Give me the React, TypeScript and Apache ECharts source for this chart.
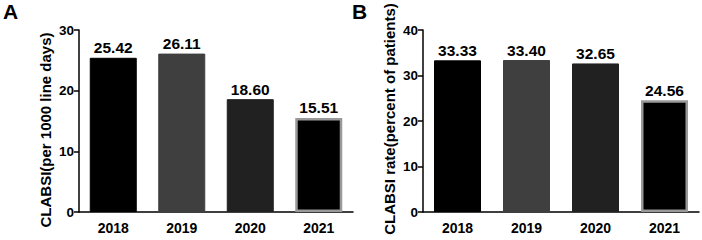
import React, { useEffect, useRef } from "react";
import * as echarts from "echarts";

const years = ["2018", "2019", "2020", "2021"];
const clabsiPer1000 = [25.42, 26.11, 18.6, 15.51];
const clabsiRate = [33.33, 33.4, 32.65, 24.56];
const barColors = ["#000000", "#3f3f3f", "#212121", "#000000"];
const barBorders = ["#000000", "#3f3f3f", "#212121", "#999999"];
const yTicksA = { min: 0, max: 30, interval: 10 };
const yTicksB = { min: 0, max: 40, interval: 10 };

const FONT = "'Liberation Sans', Arial, sans-serif";

function makeBar(values: number[], xi: number, yi: number) {
  return {
    type: "bar",
    xAxisIndex: xi,
    yAxisIndex: yi,
    barWidth: 47,
    data: values.map((v, i) => ({
      value: v,
      itemStyle: {
        color: barColors[i],
        borderColor: barBorders[i],
        borderWidth: i === 3 ? 2.5 : 1,
      },
    })),
    label: {
      show: true,
      position: "top",
      distance: 2,
      formatter: (p: any) => p.value.toFixed(2),
      fontFamily: FONT,
      fontWeight: "bold",
      fontSize: 15.5,
      color: "#000",
    },
  };
}

function xAxisCfg(gridIndex: number) {
  return {
    type: "category",
    gridIndex,
    data: years,
    axisLine: { lineStyle: { color: "#000", width: 1.5 } },
    axisTick: { alignWithLabel: true, length: 4, lineStyle: { color: "#000", width: 1.5 } },
    axisLabel: {
      fontFamily: FONT,
      fontWeight: "bold",
      fontSize: 14,
      color: "#000",
      margin: 9,
    },
  };
}

function yAxisCfg(gridIndex: number, t: { min: number; max: number; interval: number }) {
  return {
    type: "value",
    gridIndex,
    min: t.min,
    max: t.max,
    interval: t.interval,
    splitLine: { show: false },
    axisLine: { show: true, onZero: false, lineStyle: { color: "#000", width: 1.5 } },
    axisTick: { show: true, length: 5, lineStyle: { color: "#000", width: 1.5 } },
    axisLabel: {
      fontFamily: FONT,
      fontWeight: "bold",
      fontSize: 13.5,
      color: "#000",
      margin: 5,
    },
  };
}

export default function App() {
  const ref = useRef<HTMLDivElement>(null);
  useEffect(() => {
    if (!ref.current) return;
    const chart = echarts.init(ref.current, undefined, { renderer: "svg" });
    chart.setOption({
      animation: false,
      backgroundColor: "#fff",
      grid: [
        { left: 79, width: 274, top: 30, bottom: 28 },
        { left: 423, width: 276, top: 30, bottom: 28 },
      ],
      xAxis: [xAxisCfg(0), xAxisCfg(1)],
      yAxis: [yAxisCfg(0, yTicksA), yAxisCfg(1, yTicksB)],
      series: [makeBar(clabsiPer1000, 0, 0), makeBar(clabsiRate, 1, 1)],
      graphic: [
        {
          type: "text",
          left: 3,
          top: 1,
          style: { text: "A", font: `bold 21px ${FONT}`, fill: "#000" },
        },
        {
          type: "text",
          left: 352,
          top: 1,
          style: { text: "B", font: `bold 21px ${FONT}`, fill: "#000" },
        },
        {
          type: "text",
          x: 45,
          y: 130,
          rotation: Math.PI / 2,
          style: {
            text: "CLABSI(per 1000 line days)",
            font: `bold 15px ${FONT}`,
            fill: "#000",
            align: "center",
            verticalAlign: "middle",
          },
        },
        {
          type: "text",
          x: 389,
          y: 119,
          rotation: Math.PI / 2,
          style: {
            text: "CLABSI rate(percent of patients)",
            font: `bold 15px ${FONT}`,
            fill: "#000",
            align: "center",
            verticalAlign: "middle",
          },
        },
      ],
    });
    return () => chart.dispose();
  }, []);
  return <div ref={ref} style={{ width: 702, height: 240, position: "absolute", left: 0, top: 0 }} />;
}
